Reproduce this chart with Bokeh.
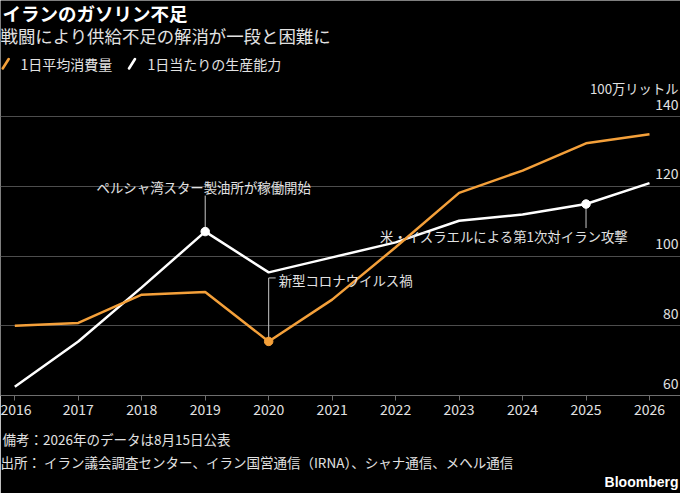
import numpy as np
from bokeh.plotting import figure
from bokeh.models import Range1d, FixedTicker, Grid, Label, Title
from bokeh.core.properties import value
from bokeh.embed import file_html
from bokeh.resources import INLINE

# ---------------- data ----------------
years = [2016, 2017, 2018, 2019, 2020, 2021, 2022, 2023, 2024, 2025, 2026]
consumption = [80.0, 80.8, 88.9, 89.7, 75.5, 87.5, 102.5, 118.1, 124.5, 132.3, 134.9]
capacity = [62.5, 75.5, 91.0, 107.0, 95.3, 99.6, 103.9, 110.1, 111.9, 114.9, 120.9]
y_ticks = [60, 80, 100, 120, 140]
y_tick_labels = ["60", "80", "100", "120", "140"]
series_names = ["1日平均消費量", "1日当たりの生産能力"]

title_text = "イランのガソリン不足"
subtitle_text = "戦闘により供給不足の解消が一段と困難に"
unit_text = "100万リットル"
note_text = "備考：2026年のデータは8月15日公表"
source_text = "出所： イラン議会調査センター、イラン国営通信（IRNA）、シャナ通信、メヘル通信"
brand_text = "Bloomberg"
ann_refinery = "ペルシャ湾スター製油所が稼働開始"
ann_covid = "新型コロナウイルス禍"
ann_attack = "米・イスラエルによる第1次対イラン攻撃"

# ---------------- style ----------------
ORANGE = "#f4a03a"
WHITE = "#ffffff"
GRID = "#4d4d4d"
TXT = "#e2e2e2"
LEAD = "#c8c8c8"
FONT = "Noto Sans CJK JP"

W, H = 680, 493
FB = 395          # frame bottom (canvas px)
PPU = 3.4875      # px per y unit
PPX = 63.47       # px per year
x_start = years[0] - 14.3 / PPX
y_start = y_ticks[0]

p = figure(width=W, height=H, output_backend="svg", toolbar_location=None,
           x_range=Range1d(x_start, x_start + W / PPX),
           y_range=Range1d(y_start, y_start + FB / PPU),
           y_axis_location=None,
           min_border_left=0, min_border_right=0, min_border_top=0,
           min_border_bottom=H - FB)
p.background_fill_color = "black"
p.border_fill_color = "black"
p.outline_line_color = None
for g in p.xgrid:
    g.visible = False
for g in p.ygrid:
    g.visible = False

p.add_layout(Grid(dimension=1, ticker=FixedTicker(ticks=y_ticks[1:]),
                  grid_line_color=GRID, grid_line_width=1))

ax = p.xaxis[0]
ax.ticker = FixedTicker(ticks=years)
ax.axis_line_color = "#6e6e6e"
ax.major_tick_line_color = "#6e6e6e"
ax.major_tick_out = 5
ax.major_tick_in = 0
ax.minor_tick_line_color = None
ax.major_label_text_color = TXT
ax.major_label_text_font = FONT
ax.major_label_text_font_size = "14px"
ax.major_label_standoff = 3


def px2x(px):
    return x_start + px / PPX


def px2y(py):
    return y_start + (FB - py) / PPU


# y tick labels (right side, above gridlines)
p.text(x=[p.x_range.end] * len(y_ticks), y=y_ticks, text=y_tick_labels,
       text_align="right", text_baseline="bottom", x_offset=-2, y_offset=-7,
       text_color=TXT, text_font=value(FONT), text_font_size="14px")

# series
p.line(years, capacity, line_color=WHITE, line_width=2.5)
p.line(years, consumption, line_color=ORANGE, line_width=2.5)

# annotations: leaders
p.segment(x0=[years[3]], y0=[capacity[3]], x1=[years[3]], y1=[capacity[3] + 36 / PPU],
          line_color=LEAD, line_width=1)
p.line(x=[years[4], years[4], years[4] + 7 / PPX],
       y=[consumption[4], consumption[4] + 63.5 / PPU, consumption[4] + 63.5 / PPU],
       line_color=LEAD, line_width=1)
p.segment(x0=[years[9]], y0=[capacity[9]], x1=[years[9]], y1=[capacity[9] - 24 / PPU],
          line_color=LEAD, line_width=1)

# markers
p.scatter([years[3], years[9]], [capacity[3], capacity[9]], size=8.5,
          fill_color=WHITE, line_color=WHITE)
p.scatter([years[4]], [consumption[4]], size=8.5, fill_color=ORANGE, line_color=ORANGE)

# annotation texts
ANN = "13.4px"
p.text(x=[years[3]], y=[capacity[3]], text=[ann_refinery], text_align="center",
       text_baseline="middle", x_offset=-1.5, y_offset=-45,
       text_color=TXT, text_font=value(FONT), text_font_size=ANN)
p.text(x=[years[4]], y=[consumption[4]], text=[ann_covid], text_align="left",
       text_baseline="middle", x_offset=10, y_offset=-61.7,
       text_color=TXT, text_font=value(FONT), text_font_size=ANN)
p.text(x=[years[9]], y=[capacity[9]], text=[ann_attack], text_align="left",
       text_baseline="middle", x_offset=-206, y_offset=31.7,
       text_color=TXT, text_font=value(FONT), text_font_size=ANN)

# legend swatches (slanted strokes)
p.segment(x0=[px2x(2.2), px2x(128.5)], y0=[px2y(68), px2y(68)],
          x1=[px2x(8.2), px2x(134.5)], y1=[px2y(58.5), px2y(58.5)],
          line_color=[ORANGE, WHITE], line_width=2.6, line_cap="round")


def lab(x, cy, text, size, color=TXT, bold=False, align="left", font=FONT):
    p.add_layout(Label(x=x, y=FB - cy, x_units="screen", y_units="screen",
                       text=text, text_align=align, text_baseline="middle",
                       text_color=color, text_font=font, text_font_size=size,
                       text_font_style="bold" if bold else "normal"))


lab(2, 12.5, title_text, "18.5px", color=WHITE, bold=True)
lab(0, 35, subtitle_text, "17.4px")
lab(20, 63, series_names[0], "14px")
lab(147, 63, series_names[1], "14px")
lab(678, 88, unit_text, "13.3px", align="right")

# footer (stacked below the axis)
p.add_layout(Title(text=" ", text_font_size="1px", standoff=6), "below")
p.add_layout(Title(text=note_text, align="left", text_color=TXT, text_font=FONT,
                   text_font_size="13.5px", text_font_style="normal",
                   standoff=1, offset=2), "below")
p.add_layout(Title(text=source_text, align="left", text_color=TXT, text_font=FONT,
                   text_font_size="13.5px", text_font_style="normal",
                   standoff=0, offset=0), "below")
p.add_layout(Title(text=brand_text, align="right", text_color=WHITE,
                   text_font="Liberation Sans", text_font_size="14px",
                   text_font_style="bold", standoff=0, offset=2), "below")

open("out.html", "w").write(file_html(p, INLINE))
